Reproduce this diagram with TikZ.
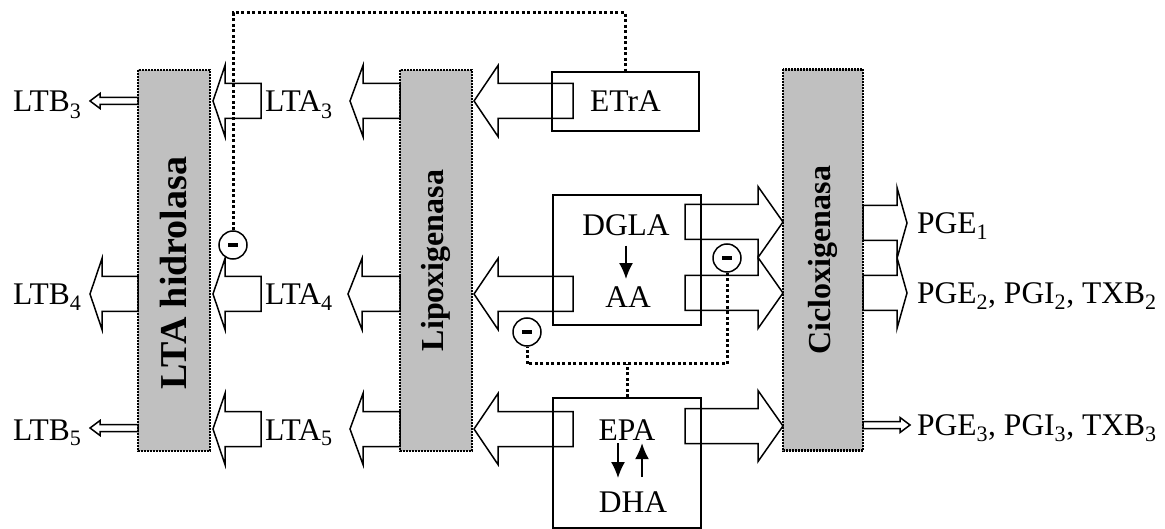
\documentclass[tikz,border=0pt]{standalone}
\usepackage{fontspec}
\setmainfont{Liberation Serif}
\usetikzlibrary{arrows.meta}
\definecolor{barfill}{RGB}{192,192,192}
% tail x, head back x, tip x, y
\newcommand\bigarr[4]{\draw[blk] (#1,#4-17.5) -- (#2,#4-17.5) -- (#2,#4-35.5) -- (#3,#4) -- (#2,#4+35.5) -- (#2,#4+17.5) -- (#1,#4+17.5) -- cycle;}
\newcommand\thinarr[4]{\draw[blk] (#1,#4-3.5) -- (#2,#4-3.5) -- (#2,#4-7.5) -- (#3,#4) -- (#2,#4+7.5) -- (#2,#4+3.5) -- (#1,#4+3.5) -- cycle;}

\begin{document}
\begin{tikzpicture}[x=1pt,y=-1pt,
	lbl/.style={font=\fontsize{31.5}{36}\selectfont, inner sep=0pt},
	bar/.style={draw, fill=barfill, line width=2.5pt, dash pattern=on 2pt off 1pt, rotate=90,
		minimum width=381pt, minimum height=72pt, inner sep=0pt, font=\fontsize{32}{36}\selectfont\bfseries},
	box/.style={draw, line width=1.5pt, inner sep=0pt},
	blk/.style={draw, line width=1.5pt},
	inh/.style={line width=3pt, dash pattern=on 3pt off 2.5pt},
	minus/.style={circle, draw, fill=white, line width=1.5pt, minimum size=28pt, inner sep=0pt},
	conv/.style={-{Latex[length=16pt,width=14pt]}, line width=1.5pt}]
	\useasboundingbox (0,0) rectangle (1165,529);

	\node[bar, font=\fontsize{38}{40}\selectfont\bfseries] (hidro) at (174,260.5) {LTA hidrolasa\hspace*{25pt}};
	\node[bar] (lipox) at (436,260.5) {Lipoxigenasa};
	\node[bar, minimum height=80pt] (ciclox) at (823,260) {Cicloxigenasa};

	\node[box, lbl, minimum width=147pt, minimum height=59pt] (etra) at (625.5,101.5) {ETrA};
	\node[box, minimum width=148pt, minimum height=130pt] (pool) at (627,260) {};
	\node[box, minimum width=148pt, minimum height=130pt] (epabox) at (627,463) {};
	\node[lbl, anchor=base] (dgla) at (626,236) {DGLA};
	\node[lbl, anchor=base] (aa) at (628,308) {AA};
	\node[lbl, anchor=base] (epa) at (627,440) {EPA};
	\node[lbl, anchor=base] (dha) at (633,512) {DHA};
	\draw[conv, shorten <=9pt, shorten >=8pt] (dgla.south) -- (dgla.south |- aa.north);
	\draw[conv, shorten <=3pt, shorten >=13pt] ([xshift=-9pt]epa.south) -- ([xshift=-9pt]epa.south |- dha.north);
	\draw[conv, shorten <=14pt, shorten >=3pt] ([xshift=15pt]epa.south |- dha.north) -- ([xshift=15pt]epa.south);

	\node[lbl, anchor=base west] (ltb3) at (13,112) {LTB\textsubscript{3}};
	\node[lbl, anchor=base west] (ltb4) at (13,305) {LTB\textsubscript{4}};
	\node[lbl, anchor=base west] (ltb5) at (13,440) {LTB\textsubscript{5}};
	\node[lbl, anchor=base west] (lta3) at (265,112) {LTA\textsubscript{3}};
	\node[lbl, anchor=base west] (lta4) at (265,305) {LTA\textsubscript{4}};
	\node[lbl, anchor=base west] (lta5) at (265,440) {LTA\textsubscript{5}};
	\node[lbl, anchor=base west] (pge1) at (917,233.5) {PGE\textsubscript{1}};
	\node[lbl, anchor=base west] (pge2) at (917,303.5) {PGE\textsubscript{2}, PGI\textsubscript{2}, TXB\textsubscript{2}};
	\node[lbl, anchor=base west] (pge3) at (917,435.5) {PGE\textsubscript{3}, PGI\textsubscript{3}, TXB\textsubscript{3}};

	\bigarr{573}{498}{474}{101} \bigarr{400}{363}{350}{101} \bigarr{261}{225}{213}{101}
	\bigarr{573}{498}{474}{294} \bigarr{400}{362}{348}{294} \bigarr{261}{225}{213}{294} \bigarr{138}{102}{90}{294}
	\bigarr{573}{498}{474}{429} \bigarr{400}{363}{350}{429} \bigarr{261}{225}{213}{429}
	\bigarr{685}{758}{783}{222} \bigarr{685}{758}{783}{293} \bigarr{685}{758}{783}{426}
	\bigarr{863}{897}{907}{223} \bigarr{863}{897}{907}{293}
	\thinarr{138}{100}{90}{101} \thinarr{138}{100}{90}{428} \thinarr{863}{900}{910}{425}

	\node[minus] (m1) at (233,245) {\rule{10pt}{4pt}};
	\node[minus] (m2) at (727,258) {\rule{10pt}{4pt}};
	\node[minus] (m3) at (527,332) {\rule{10pt}{4pt}};
	\draw[inh] (m1.north) -- (m1.north |- 0,13) -| (etra.north);
	\draw[inh] (m2.south) -- (m2.south |- 0,364) -| (m3.south);
	\draw[inh] (epabox.north) -- (epabox.north |- 0,364);
\end{tikzpicture}
\end{document}
